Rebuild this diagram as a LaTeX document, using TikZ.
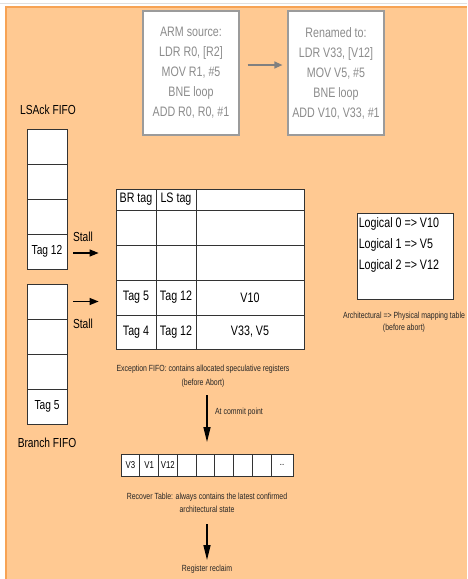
\documentclass[tikz,border=0pt]{standalone}
\usepackage{fontspec}
\setmainfont[FakeStretch=0.78]{Liberation Sans}
\usetikzlibrary{arrows.meta}
\definecolor{bgor}{RGB}{255,201,146}
\definecolor{bdor}{RGB}{247,163,84}
\definecolor{gtext}{RGB}{140,140,140}
\definecolor{gline}{RGB}{155,155,155}
\newcommand\myfs[2]{\fontsize{#1}{#2}\selectfont}
\begin{document}
\begin{tikzpicture}[x=1pt,y=-1pt,
  srcbox/.style={draw=gline, line width=1.2pt, fill=white, minimum width=96, minimum height=124, inner sep=0, align=center, text=gtext, font=\myfs{13.7}{20}},
  fifo/.style={draw=black!80, line width=0.8pt, fill=white, minimum width=40, minimum height=35, inner sep=0, font=\myfs{13.1}{14}},
  tcell/.style={draw=black!80, line width=0.8pt, fill=white, inner sep=0, font=\myfs{13.7}{15}},
  rcell/.style={draw=black!80, line width=0.8pt, fill=white, inner sep=0, minimum height=22, minimum width=18.75, font=\myfs{10}{11}},
  captxt/.style={font=\myfs{8.9}{14}, align=center, inner sep=0, text=black!85},
  lab/.style={font=\myfs{13.1}{14}, inner sep=0},
  arrblack/.style={-{Triangle[length=9pt,width=7pt]}, line width=1.2pt},
  arrdown/.style={-{Triangle[length=15pt,width=7pt]}, line width=1.5pt},
  arrgray/.style={draw=gray, -{Triangle[length=8pt,width=7pt]}, line width=1.2pt}
]
\useasboundingbox (0,0) rectangle (467,579);
\fill[white] (0,0) rectangle (467,579);
\draw[black!12, line width=1pt] (0,3) -- (467,3);
\fill[bgor] (5,6) rectangle (467,579);
\draw[bdor, line width=2pt] (6,579) -- (6,7) -- (467,7);

% source boxes
\node[srcbox] (arm) at (191,73) {ARM source:\\LDR R0, [R2]\\MOV R1, \#5\\BNE loop\\ADD R0, R0, \#1};
\node[srcbox] (ren) at (336,73) {Renamed to:\\LDR V33, [V12]\\MOV V5, \#5\\BNE loop\\ADD V10, V33, \#1};
\draw[arrgray, shorten <=8pt, shorten >=5pt] ([yshift=8pt]arm.east) -- ([yshift=8pt]ren.west);

% LSAck FIFO
\node[lab] (lslab) at (48,110) {LSAck FIFO};
\node[fifo] (ls1) at (47,146.5) {};
\node[fifo] (ls2) at (47,181.5) {};
\node[fifo] (ls3) at (47,216.5) {};
\node[fifo] (ls4) at (47,251.5) {Tag 12};

% Branch FIFO
\node[fifo] (br1) at (47,301.5) {};
\node[fifo] (br2) at (47,336.5) {};
\node[fifo] (br3) at (47,371.5) {};
\node[fifo] (br4) at (47,406.5) {Tag 5};
\node[lab] (brlab) at (47,443) {Branch FIFO};

% Exception table
\node[tcell, minimum width=40, minimum height=21] (h1) at (136,199.5) {BR tag};
\node[tcell, minimum width=40, minimum height=21] (h2) at (176,199.5) {LS tag};
\node[tcell, minimum width=108, minimum height=21] (h3) at (250,199.5) {};
\node[tcell, minimum width=40, minimum height=35] (a1) at (136,227.5) {};
\node[tcell, minimum width=40, minimum height=35] (a2) at (176,227.5) {};
\node[tcell, minimum width=108, minimum height=35] (a3) at (250,227.5) {};
\node[tcell, minimum width=40, minimum height=35] (b1) at (136,262.5) {};
\node[tcell, minimum width=40, minimum height=35] (b2) at (176,262.5) {};
\node[tcell, minimum width=108, minimum height=35] (b3) at (250,262.5) {};
\node[tcell, minimum width=40, minimum height=35] (c1) at (136,297.5) {Tag 5};
\node[tcell, minimum width=40, minimum height=35] (c2) at (176,297.5) {Tag 12};
\node[tcell, minimum width=108, minimum height=35] (c3) at (250,297.5) {V10};
\node[tcell, minimum width=40, minimum height=34] (d1) at (136,332) {Tag 4};
\node[tcell, minimum width=40, minimum height=34] (d2) at (176,332) {Tag 12};
\node[tcell, minimum width=108, minimum height=34] (d3) at (250,332) {V33, V5};

% Stall arrows
\node[lab] (st1) at (83,237) {Stall};
\draw[arrblack, shorten <=6pt, shorten >=17pt] ([yshift=-1.5pt]ls4.east) -- ([yshift=-1.5pt]ls4.east -| b1.west);
\draw[arrblack, shorten <=6pt, shorten >=17pt] (br1.east) -- (br1.east -| c1.west);
\node[lab] (st2) at (83,324) {Stall};

\node[captxt] (exccap) at (203,376) {Exception FIFO: contains allocated speculative registers\\(before Abort)};

% mapping table
\node[draw=black!80, line width=0.8pt, fill=white, minimum width=96, minimum height=86, inner sep=0] (map) at (405,256) {};
\node[anchor=north west, inner sep=0, align=left, font=\myfs{13.7}{21}] (maptext) at ([xshift=2pt,yshift=-5pt]map.north west) {Logical 0 => V10\\Logical 1 => V5\\Logical 2 => V12};
\node[captxt, font=\myfs{8.9}{12}] (mapcap) at (404,322) {Architectural => Physical mapping table\\(before abort)};

% commit arrow
\coordinate (ca1) at (207,395);
\coordinate (ca2) at (207,442);
\draw[arrdown] (ca1) -- (ca2);
\node[captxt] (commit) at (239,412) {At commit point};

% Recover table
\node[rcell] (r1) at (130.375,465) {V3};
\node[rcell] (r2) at (149.125,465) {V1};
\node[rcell] (r3) at (167.875,465) {V12};
\node[rcell] (r4) at (186.625,465) {};
\node[rcell] (r5) at (205.375,465) {};
\node[rcell] (r6) at (224.125,465) {};
\node[rcell] (r7) at (242.875,465) {};
\node[rcell] (r8) at (261.625,465) {};
\node[rcell, minimum width=22] (r9) at (282,465) {..};

\node[captxt, font=\myfs{8.9}{13}] (reccap) at (207,502.5) {Recover Table: always contains the latest confirmed\\architectural state};

\coordinate (ra1) at (207,524);
\coordinate (ra2) at (207,560);
\draw[arrdown] (ra1) -- (ra2);
\node[captxt] (reclaim) at (207,569) {Register reclaim};
\end{tikzpicture}
\end{document}
